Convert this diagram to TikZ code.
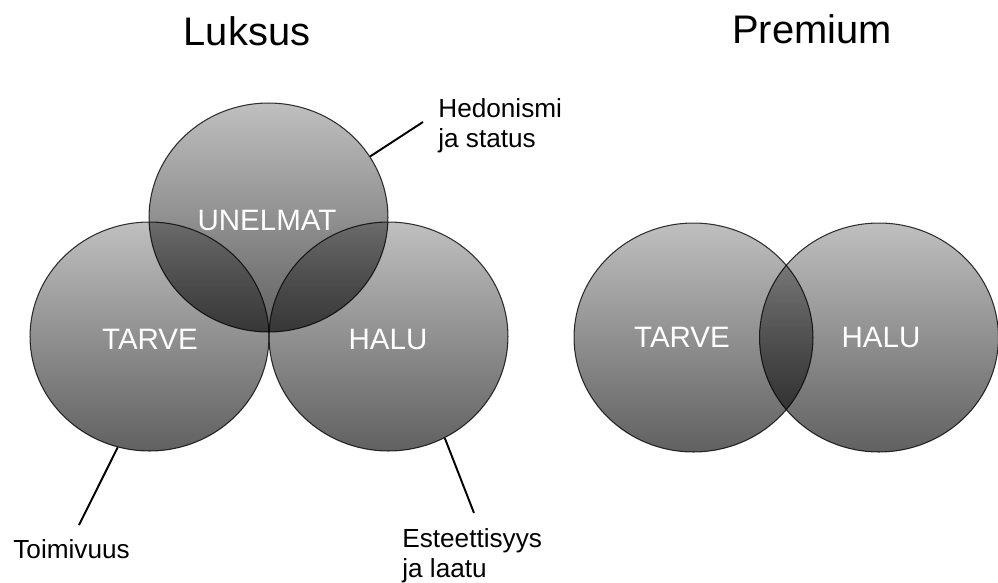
\documentclass[tikz,border=0pt]{standalone}
\usepackage{fontspec}
\setmainfont{Liberation Sans}
\usepackage{xcolor}
\usepackage{tikz}
\usetikzlibrary{shapes.geometric,positioning}

\definecolor{circtop}{gray}{0.75}
\definecolor{circbot}{gray}{0.38}
\definecolor{circline}{gray}{0.22}

\begin{document}
\begin{tikzpicture}[x=0.02cm, y=-0.02cm,
  circ/.style={draw=circline, line width=0.6pt, ellipse, inner sep=0pt,
    minimum width=4.78cm, minimum height=4.58cm, top color=circtop, bottom color=circbot},
  inlbl/.style={anchor=base, text=white, font=\fontsize{16.8}{20}\selectfont},
  title/.style={anchor=base, font=\fontsize{22.7}{27}\selectfont},
  note/.style={inner sep=0pt, align=left, font=\fontsize{14.9}{17}\selectfont},
  leader/.style={line width=1.1pt}
]
\useasboundingbox (0,0) rectangle (998,582);
\node[title] (luksus) at (247,45) {Luksus};
\node[title] (premium) at (812,43) {Premium};

\begin{scope}[blend group=multiply]
\node[circ] (unelmat) at (268.5,217.5) {};
\node[circ] (tarve) at (149.5,336.5) {};
\node[circ] (halu) at (388.5,336.5) {};
\node[circ] (ptarve) at (693.5,337.5) {};
\node[circ] (phalu) at (879,337.5) {};
\end{scope}

\node[inlbl] (unelmatlbl) at (267,230) {UNELMAT};
\node[inlbl] (tarvelbl) at (150,349) {TARVE};
\node[inlbl] (halulbl) at (388,349) {HALU};
\node[inlbl] (ptarvelbl) at (682,347) {TARVE};
\node[inlbl] (phalulbl) at (881,347) {HALU};

\node[note, anchor=north west] (hedon) at (438,98) {Hedonismi\\ja status};
\node[note, anchor=base west] (toimi) at (13,558) {Toimivuus};
\node[note, anchor=north west] (estet) at (402,528) {Esteettisyys\\ja laatu};

\coordinate (hedonend) at (423,122);
\coordinate (toimiend) at (79,525);
\coordinate (estetend) at (474,513);
\draw[leader] (unelmat.31) -- (hedonend);
\draw[leader] (tarve.254) -- (toimiend);
\draw[leader] (halu.299) -- (estetend);
\end{tikzpicture}
\end{document}
